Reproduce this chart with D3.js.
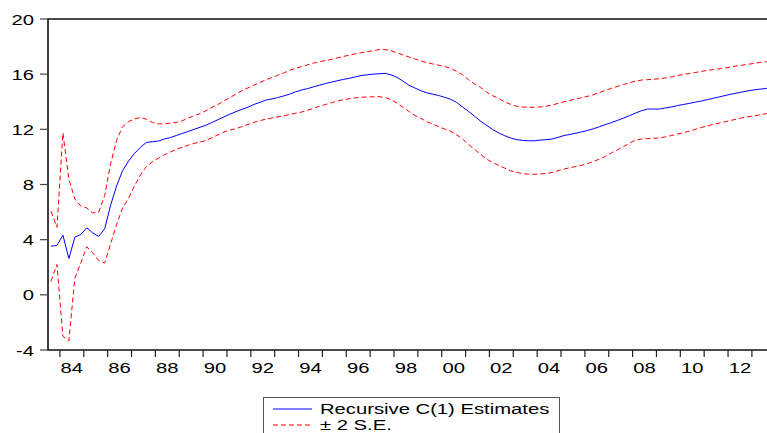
<!DOCTYPE html>
<html>
<head>
<meta charset="utf-8">
<script src="https://cdn.jsdelivr.net/npm/d3@7"></script>
<style>
  body { margin: 0; background: #fff; }
  svg { display: block; }
  text { font-family: "Liberation Sans", Arial, sans-serif; font-size: 15px; fill: #000; }
</style>
</head>
<body>
<svg id="chart" width="767" height="433"></svg>
<script>
// quarterly, 1983Q3 .. 2013Q3
var startYear = 1983, startQuarter = 3;

var estimate = [
  3.53, 3.58, 4.33, 2.63, 4.18, 4.38, 4.86, 4.49, 4.23, 4.79,
  6.5, 7.9, 9.0, 9.7, 10.25, 10.7, 11.05, 11.1, 11.15, 11.3,
  11.4, 11.55, 11.7, 11.85, 12.0, 12.15, 12.3, 12.5, 12.7, 12.9,
  13.1, 13.28, 13.45, 13.6, 13.8, 13.95, 14.12, 14.2, 14.3, 14.42,
  14.55, 14.72, 14.85, 14.95, 15.08, 15.2, 15.32, 15.42, 15.52, 15.62,
  15.7, 15.8, 15.9, 15.95, 16.0, 16.03, 16.06, 15.95, 15.77, 15.5,
  15.2, 15.0, 14.8, 14.65, 14.55, 14.45, 14.32, 14.18, 13.95, 13.62,
  13.3, 12.95, 12.6, 12.3, 12.0, 11.75, 11.55, 11.38, 11.26, 11.2,
  11.17, 11.17, 11.22, 11.25, 11.3, 11.42, 11.55, 11.63, 11.72, 11.82,
  11.92, 12.05, 12.2, 12.35, 12.5, 12.65, 12.82, 13.0, 13.18, 13.35,
  13.47, 13.47, 13.47, 13.55, 13.62, 13.72, 13.8, 13.88, 13.97, 14.05,
  14.15, 14.25, 14.35, 14.45, 14.55, 14.63, 14.72, 14.8, 14.87, 14.92,
  14.97
];

var upper = [
  6.07, 4.9, 11.74, 8.4, 6.95, 6.44, 6.3, 5.93, 6.0, 7.2,
  9.5, 11.2, 12.2, 12.55, 12.76, 12.86, 12.73, 12.5, 12.4, 12.4,
  12.45, 12.5, 12.62, 12.82, 12.98, 13.15, 13.35, 13.6, 13.8, 14.07,
  14.3, 14.55, 14.8, 15.0, 15.2, 15.4, 15.58, 15.75, 15.92, 16.08,
  16.28, 16.42, 16.55, 16.68, 16.8, 16.9, 16.98, 17.07, 17.18, 17.28,
  17.38, 17.47, 17.55, 17.63, 17.7, 17.78, 17.78, 17.7, 17.55, 17.4,
  17.25, 17.1, 16.95, 16.85, 16.74, 16.65, 16.55, 16.42, 16.2, 15.95,
  15.6, 15.3, 15.05, 14.7, 14.45, 14.25, 14.0, 13.82, 13.68, 13.62,
  13.6, 13.6, 13.63, 13.68, 13.76, 13.88, 14.0, 14.1, 14.2, 14.3,
  14.4, 14.52, 14.68, 14.83, 14.98, 15.12, 15.25, 15.38, 15.5, 15.57,
  15.6, 15.63, 15.67, 15.73, 15.8, 15.9, 15.98, 16.05, 16.12, 16.2,
  16.27, 16.33, 16.38, 16.45, 16.52, 16.6, 16.66, 16.72, 16.8, 16.85,
  16.91
];

var lower = [
  0.98, 2.2, -3.02, -3.33, 1.22, 2.31, 3.48, 3.04, 2.49, 2.31,
  3.7, 5.1, 6.3, 7.0, 7.9, 8.7, 9.3, 9.65, 9.9, 10.15,
  10.35, 10.55, 10.7, 10.85, 10.98, 11.08, 11.2, 11.4, 11.6, 11.8,
  11.95, 12.05, 12.2, 12.35, 12.5, 12.62, 12.74, 12.82, 12.9, 12.98,
  13.08, 13.17, 13.25, 13.38, 13.52, 13.67, 13.8, 13.93, 14.05, 14.15,
  14.22, 14.28, 14.32, 14.35, 14.36, 14.37, 14.3, 14.15, 13.9, 13.6,
  13.3, 13.0, 12.8, 12.55, 12.38, 12.2, 12.02, 11.85, 11.6, 11.3,
  10.9, 10.55, 10.2, 9.85, 9.6, 9.4, 9.2, 9.0, 8.88, 8.8,
  8.75, 8.74, 8.76, 8.8, 8.87, 9.0, 9.12, 9.22, 9.3, 9.4,
  9.52, 9.68, 9.85, 10.05, 10.3, 10.52, 10.75, 11.0, 11.22, 11.3,
  11.33, 11.35, 11.38, 11.45, 11.55, 11.65, 11.75, 11.87, 12.0, 12.13,
  12.25, 12.35, 12.45, 12.55, 12.65, 12.75, 12.85, 12.92, 12.98, 13.07,
  13.15
];

var yTicks = [-4, 0, 4, 8, 12, 16, 20];
var yearTicks = d3.range(1984, 2014);
var xLabels = ["84", "86", "88", "90", "92", "94", "96", "98", "00", "02", "04", "06", "08", "10", "12"];
var legendLabels = ["Recursive C(1) Estimates", "\u00b1 2 S.E."];

var stretch = 1.35; // text in the original is drawn wide

var svg = d3.select("#chart");

var x = d3.scaleLinear()
  .domain([1983.5, 2013.75])
  .range([48, 769.8]);

var y = d3.scaleLinear()
  .domain([-4, 20])
  .range([350, 19]);

function qTime(i) {
  var q = startQuarter - 1 + i;
  return startYear + Math.floor(q / 4) + (q % 4) / 4 + 0.125;
}

var line = d3.line()
  .x(function(d, i) { return x(qTime(i)); })
  .y(function(d) { return y(d); });

var g = svg.append("g");

// series
g.append("path")
  .datum(upper)
  .attr("d", line)
  .attr("fill", "none")
  .attr("stroke", "#ff0000")
  .attr("stroke-width", 1)
  .attr("stroke-dasharray", "5,3");

g.append("path")
  .datum(lower)
  .attr("d", line)
  .attr("fill", "none")
  .attr("stroke", "#ff0000")
  .attr("stroke-width", 1)
  .attr("stroke-dasharray", "5,3");

g.append("path")
  .datum(estimate)
  .attr("d", line)
  .attr("fill", "none")
  .attr("stroke", "#0000ff")
  .attr("stroke-width", 1);

// frame: top, left, bottom
var x0 = x.range()[0], x1 = x.range()[1];
g.append("path")
  .attr("d", "M" + x1 + "," + y(20) + "H" + x0 + "V" + y(-4) + "H" + x1)
  .attr("fill", "none")
  .attr("stroke", "#111")
  .attr("stroke-width", 1.6);

// y axis ticks + labels
g.selectAll(".ytick")
  .data(yTicks)
  .enter()
  .append("line")
  .attr("x1", x0 - 8)
  .attr("x2", x0)
  .attr("y1", function(d) { return y(d); })
  .attr("y2", function(d) { return y(d); })
  .attr("stroke", "#444")
  .attr("stroke-width", 1.2);

g.selectAll(".ylab")
  .data(yTicks)
  .enter()
  .append("text")
  .attr("text-anchor", "end")
  .attr("transform", function(d) { return "translate(34," + (y(d) + 5.5) + ") scale(" + stretch + ",1)"; })
  .text(function(d) { return d; });

// x axis ticks (every year) + labels (every other year, centred in the year)
g.selectAll(".xtick")
  .data(yearTicks)
  .enter()
  .append("line")
  .attr("x1", function(d) { return x(d); })
  .attr("x2", function(d) { return x(d); })
  .attr("y1", y(-4))
  .attr("y2", y(-4) + 7)
  .attr("stroke", "#222")
  .attr("stroke-width", 1.2);

g.selectAll(".xlab")
  .data(xLabels)
  .enter()
  .append("text")
  .attr("text-anchor", "middle")
  .attr("transform", function(d, i) { return "translate(" + x(1984 + 2 * i + 0.5) + ",373) scale(" + stretch + ",1)"; })
  .text(function(d) { return d; });

// legend
var legend = svg.append("g").attr("transform", "translate(263,397)");
legend.append("rect")
  .attr("x", 0.5)
  .attr("y", 0.5)
  .attr("width", 296)
  .attr("height", 60)
  .attr("fill", "#fff")
  .attr("stroke", "#555")
  .attr("stroke-width", 1);

var rows = legend.selectAll(".row")
  .data(legendLabels)
  .enter()
  .append("g")
  .attr("transform", function(d, i) { return "translate(0," + (12 + i * 16) + ")"; });

rows.append("line")
  .attr("x1", 10)
  .attr("x2", 49)
  .attr("y1", 0)
  .attr("y2", 0)
  .attr("stroke", function(d, i) { return i === 0 ? "#0000ff" : "#ff0000"; })
  .attr("stroke-width", 1)
  .attr("stroke-dasharray", function(d, i) { return i === 0 ? null : "5,3"; });

rows.append("text")
  .attr("transform", "translate(57,5) scale(" + stretch + ",1)")
  .text(function(d) { return d; });
</script>
</body>
</html>
